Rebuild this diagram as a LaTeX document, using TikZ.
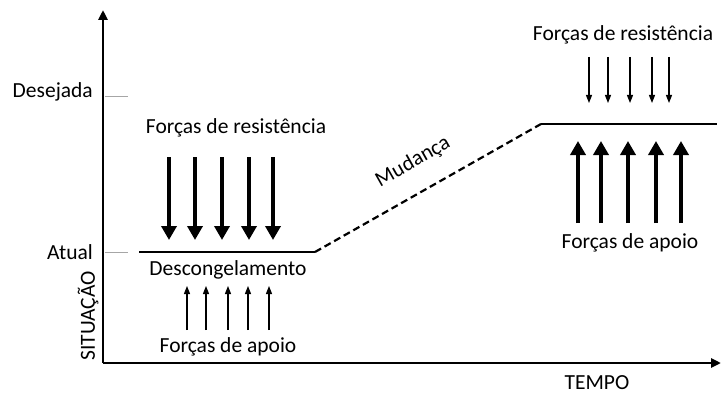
\documentclass[tikz,border=0pt]{standalone}
\usepackage{fontspec}
\setmainfont{Carlito}
\usetikzlibrary{arrows.meta}
\begin{document}
\begin{tikzpicture}[x=1pt,y=-1pt,
  lbl/.style={font=\fontsize{21.5}{24}\selectfont, inner sep=0pt, anchor=center},
  axis/.style={line width=2.8pt, -{Triangle[length=10pt,width=9pt]}},
  tick/.style={draw=gray!70, line width=1pt},
  level/.style={line width=2.2pt},
  change/.style={line width=2.2pt, dash pattern=on 7pt off 4pt},
  bigarrow/.style={line width=4.5pt, -{Triangle[length=14pt,width=15pt]}},
  thinarrow/.style={line width=1.3pt, -{Triangle[length=8pt,width=6pt]}}]
\useasboundingbox (0,0) rectangle (721,396);
% axes
\coordinate (O) at (103,363);
\coordinate (ytop) at (103,10);
\coordinate (xend) at (721,363);
\draw[axis] (O) -- (ytop);
\draw[axis] (O) -- (xend);
% ticks
\coordinate (d1) at (105,97); \coordinate (d2) at (128,97);
\coordinate (a1) at (105,252); \coordinate (a2) at (128,252);
\draw[tick] (d1) -- (d2);
\draw[tick] (a1) -- (a2);
\node[lbl, anchor=east] (desejada) at (93,92) {Desejada};
\node[lbl, anchor=east] (atual) at (93,252) {Atual};
\node[lbl, rotate=90] (situacao) at (88,316) {SITUAÇÃO};
\node[lbl] (tempo) at (597,383) {TEMPO};
% levels
\coordinate (L1) at (139,252);
\coordinate (L2) at (315,252);
\coordinate (R1) at (541,124);
\coordinate (R2) at (717,124);
\draw[level] (L1) -- (L2);
\draw[change] (L2) -- (R1);
\draw[level] (R1) -- (R2);
\node[lbl, rotate=29.5] (mudanca) at (413,162) {Mudança};
% left
\node[lbl] (resL) at (236,128) {Forças de resistência};
\node[lbl] (desc) at (228,270) {Descongelamento};
\node[lbl] (apoL) at (228,347) {Forças de apoio};
\foreach \x [count=\i] in {169,195,222,249,273}{
  \coordinate (bs\i) at (\x,157); \coordinate (be\i) at (\x,240);
  \draw[bigarrow] (bs\i) -- (be\i);
}
\foreach \x [count=\i] in {187,206,228,248,269}{
  \coordinate (ts\i) at (\x,330); \coordinate (te\i) at (\x,286);
  \draw[thinarrow] (ts\i) -- (te\i);
}
% right
\node[lbl] (resR) at (623,35) {Forças de resistência};
\node[lbl] (apoR) at (630,243) {Forças de apoio};
\foreach \x [count=\i] in {589,608,630,652,669}{
  \coordinate (rs\i) at (\x,57); \coordinate (re\i) at (\x,103);
  \draw[thinarrow] (rs\i) -- (re\i);
}
\foreach \x [count=\i] in {578,601,628,656,681}{
  \coordinate (us\i) at (\x,223); \coordinate (ue\i) at (\x,141);
  \draw[bigarrow] (us\i) -- (ue\i);
}
\end{tikzpicture}
\end{document}
